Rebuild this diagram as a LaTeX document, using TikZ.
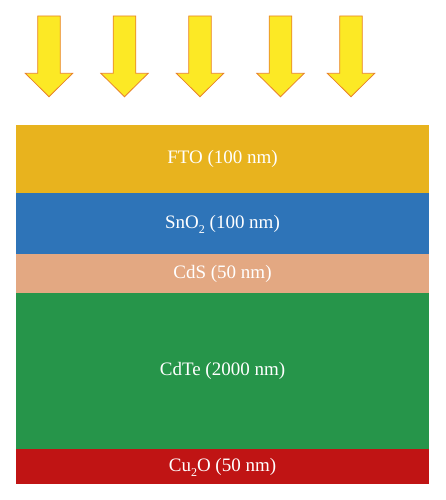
\documentclass[tikz,border=0pt]{standalone}
\usepackage{fontspec}
\setmainfont{Liberation Serif}
\usepackage{tikz}
\usetikzlibrary{positioning}

\definecolor{ftocolor}{HTML}{E8B31E}
\definecolor{snocolor}{HTML}{2E74B8}
\definecolor{cdscolor}{HTML}{E3A882}
\definecolor{cdtecolor}{HTML}{26954A}
\definecolor{cucolor}{HTML}{C01414}
\definecolor{lightfill}{HTML}{FCE925}
\definecolor{lightedge}{HTML}{E8822A}

\newcommand{\lowtwo}{\raisebox{-0.3em}{\fontsize{12}{12}\selectfont 2}}

\tikzset{
    layer/.style={minimum width=413pt, inner sep=0pt, outer sep=0pt, text=white,
        text height=13pt, text depth=4pt, font=\fontsize{19}{22}\selectfont},
    sunarrow/.style={fill=lightfill, draw=lightedge, line width=0.8pt, line join=miter}
}

\begin{document}
\begin{tikzpicture}[x=1pt, y=-1pt]
                \useasboundingbox (0,0) rectangle (445,500);

                % --- incoming light ---
                \foreach \c in {49, 124.5, 200, 280.5, 351} {
                    \draw[sunarrow] (\c-11.3,16) -- (\c+11.3,16) -- (\c+11.3,73.3) -- (\c+23.7,73.3)
                        -- (\c,96.7) -- (\c-23.7,73.3) -- (\c-11.3,73.3) -- cycle;
                }

                % --- layer stack ---
                \node[layer, fill=ftocolor, minimum height=68pt, anchor=north west] (fto) at (16,125) {FTO (100 nm)};
                \node[layer, fill=snocolor, minimum height=61pt, below=0pt of fto] (sno) {SnO\lowtwo{} (100 nm)};
                \node[layer, fill=cdscolor, minimum height=39pt, below=0pt of sno] (cds) {CdS (50 nm)};
                \node[layer, fill=cdtecolor, minimum height=156pt, below=0pt of cds] (cdte) {CdTe (2000 nm)};
                \node[layer, fill=cucolor, minimum height=35pt, below=0pt of cdte] (cu) {Cu\lowtwo{}O (50 nm)};
            \end{tikzpicture}
\end{document}
